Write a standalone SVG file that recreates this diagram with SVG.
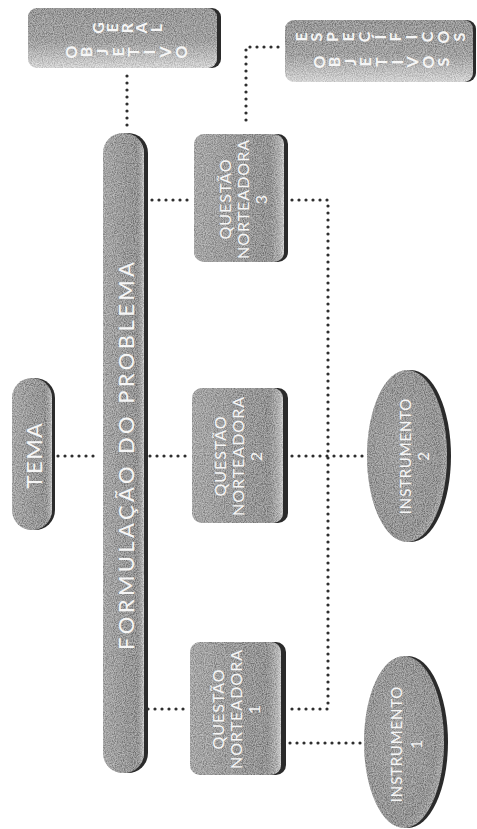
<svg xmlns="http://www.w3.org/2000/svg" width="477" height="829" viewBox="0 0 477 829">
<defs>
<linearGradient id="gH" x1="0" y1="0" x2="1" y2="0">
<stop offset="0" stop-color="#9c9c9c"/>
<stop offset="0.5" stop-color="#888888"/>
<stop offset="0.85" stop-color="#7e7e7e"/>
<stop offset="0.95" stop-color="#a9a9a9"/>
<stop offset="1" stop-color="#d2d2d2"/>
</linearGradient>
<linearGradient id="gV" x1="0" y1="0" x2="0" y2="1">
<stop offset="0" stop-color="#858585"/>
<stop offset="0.55" stop-color="#939393"/>
<stop offset="1" stop-color="#dcdcdc"/>
</linearGradient>
<radialGradient id="gE" cx="0.4" cy="0.45" r="0.65">
<stop offset="0" stop-color="#929292"/>
<stop offset="0.8" stop-color="#7f7f7f"/>
<stop offset="1" stop-color="#a8a8a8"/>
</radialGradient>
<filter id="grain" x="0" y="0" width="1" height="1">
<feTurbulence type="fractalNoise" baseFrequency="0.9" numOctaves="2" seed="3" result="n"/>
<feColorMatrix in="n" type="matrix" values="2 0 0 0 -0.5  2 0 0 0 -0.5  2 0 0 0 -0.5  0 0 0 0 0.3" result="na"/>
<feComposite in="na" in2="SourceGraphic" operator="in" result="nc"/>
<feMerge><feMergeNode in="SourceGraphic"/><feMergeNode in="nc"/></feMerge>
</filter>
</defs>
<style>
.edge{fill:#2b2b2b}
.face{filter:url(#grain)}
.t{font-family:Lato,"Open Sans","Liberation Sans",sans-serif;fill:#f6f6f6;text-anchor:middle;dominant-baseline:central}
.q{font-size:16px;letter-spacing:1px}
.i{font-size:15px;letter-spacing:0.8px}
.l{font-size:16px;font-weight:bold}
.c{fill:none;stroke:#2e2e2e;stroke-width:3.2;stroke-linecap:round;stroke-dasharray:0 7}
</style>
<rect width="477" height="829" fill="#ffffff"/>

<g id="connectors">
<path class="c" d="M127,76 V126"/>
<path class="c" d="M278,47 H246 V127"/>
<path class="c" d="M152,200 H191"/>
<path class="c" d="M292,200 H328 V709 H290"/>
<path class="c" d="M58,456 H98"/>
<path class="c" d="M150,456 H189"/>
<path class="c" d="M292,456 H364"/>
<path class="c" d="M148,709 H187"/>
<path class="c" d="M290,743 H362"/>
</g>

<g id="objetivo-geral">
<rect class="edge" x="31" y="8" width="190" height="60" rx="9"/>
<rect class="face" x="28" y="8" width="189" height="60" rx="9" fill="url(#gV)"/>
<g class="t l">
<text transform="translate(97,28) rotate(-90)">G</text>
<text transform="translate(111.5,28) rotate(-90)">E</text>
<text transform="translate(126,28) rotate(-90)">R</text>
<text transform="translate(140.5,28) rotate(-90)">A</text>
<text transform="translate(155,28) rotate(-90)">L</text>
<text transform="translate(70,52) rotate(-90)">O</text>
<text transform="translate(85.7,52) rotate(-90)">B</text>
<text transform="translate(101.4,52) rotate(-90)">J</text>
<text transform="translate(117.1,52) rotate(-90)">E</text>
<text transform="translate(132.9,52) rotate(-90)">T</text>
<text transform="translate(148.6,52) rotate(-90)">I</text>
<text transform="translate(164.3,52) rotate(-90)">V</text>
<text transform="translate(180,52) rotate(-90)">O</text>
</g>
</g>

<g id="objetivos-especificos">
<rect class="edge" x="288" y="20" width="188" height="62" rx="9"/>
<rect class="face" x="285" y="20" width="188" height="62" rx="9" fill="url(#gV)"/>
<g class="t l">
<text transform="translate(300,37) rotate(-90)">E</text>
<text transform="translate(315.8,37) rotate(-90)">S</text>
<text transform="translate(331.6,37) rotate(-90)">P</text>
<text transform="translate(347.4,37) rotate(-90)">E</text>
<text transform="translate(363.2,37) rotate(-90)">C</text>
<text transform="translate(379,37) rotate(-90)">Í</text>
<text transform="translate(394.8,37) rotate(-90)">F</text>
<text transform="translate(410.6,37) rotate(-90)">I</text>
<text transform="translate(426.4,37) rotate(-90)">C</text>
<text transform="translate(442.2,37) rotate(-90)">O</text>
<text transform="translate(458,37) rotate(-90)">S</text>
<text transform="translate(318,62) rotate(-90)">O</text>
<text transform="translate(333.6,62) rotate(-90)">B</text>
<text transform="translate(349.2,62) rotate(-90)">J</text>
<text transform="translate(364.8,62) rotate(-90)">E</text>
<text transform="translate(380.4,62) rotate(-90)">T</text>
<text transform="translate(396,62) rotate(-90)">I</text>
<text transform="translate(411.6,62) rotate(-90)">V</text>
<text transform="translate(427.2,62) rotate(-90)">O</text>
<text transform="translate(442.8,62) rotate(-90)">S</text>
</g>
</g>

<g id="tema">
<rect class="edge" x="15" y="378" width="40" height="152" rx="20"/>
<rect class="face" x="12" y="378" width="40" height="152" rx="20" fill="url(#gH)"/>
<text class="t" font-size="22" letter-spacing="1.5" transform="translate(33,455) rotate(-90)">TEMA</text>
</g>

<g id="formulacao">
<rect class="edge" x="106" y="133" width="42" height="640" rx="20"/>
<rect class="face" x="103" y="133" width="41" height="640" rx="20" fill="url(#gH)"/>
<text class="t" font-size="22" textLength="388" lengthAdjust="spacing" transform="translate(125,456) rotate(-90)">FORMULAÇÃO DO PROBLEMA</text>
</g>

<g id="questao3">
<rect class="edge" x="198" y="134" width="90" height="128" rx="10"/>
<rect class="face" x="194" y="134" width="90" height="128" rx="10" fill="url(#gH)"/>
<text class="t q" transform="translate(242,199) rotate(-90)"><tspan x="0" y="-18">QUESTÃO</tspan><tspan x="0" y="0">NORTEADORA</tspan><tspan x="0" y="18">3</tspan></text>
</g>

<g id="questao2">
<rect class="edge" x="197" y="388" width="91" height="135" rx="10"/>
<rect class="face" x="192" y="388" width="91" height="135" rx="10" fill="url(#gH)"/>
<text class="t q" transform="translate(237,456) rotate(-90)"><tspan x="0" y="-18">QUESTÃO</tspan><tspan x="0" y="0">NORTEADORA</tspan><tspan x="0" y="18">2</tspan></text>
</g>

<g id="questao1">
<rect class="edge" x="195" y="642" width="91" height="133" rx="10"/>
<rect class="face" x="190" y="642" width="91" height="133" rx="10" fill="url(#gH)"/>
<text class="t q" transform="translate(235,709) rotate(-90)"><tspan x="0" y="-18">QUESTÃO</tspan><tspan x="0" y="0">NORTEADORA</tspan><tspan x="0" y="18">1</tspan></text>
</g>

<g id="instrumento2">
<ellipse class="edge" cx="411" cy="456" rx="40" ry="86"/>
<ellipse class="face" cx="407" cy="456" rx="40" ry="86" fill="url(#gE)"/>
<text class="t i" transform="translate(414,456) rotate(-90)"><tspan x="0" y="-9">INSTRUMENTO</tspan><tspan x="0" y="9">2</tspan></text>
</g>

<g id="instrumento1">
<ellipse class="edge" cx="408" cy="742" rx="40" ry="86"/>
<ellipse class="face" cx="404" cy="742" rx="40" ry="86" fill="url(#gE)"/>
<text class="t i" transform="translate(406,744) rotate(-90)"><tspan x="0" y="-10">INSTRUMENTO</tspan><tspan x="0" y="10">1</tspan></text>
</g>
</svg>
